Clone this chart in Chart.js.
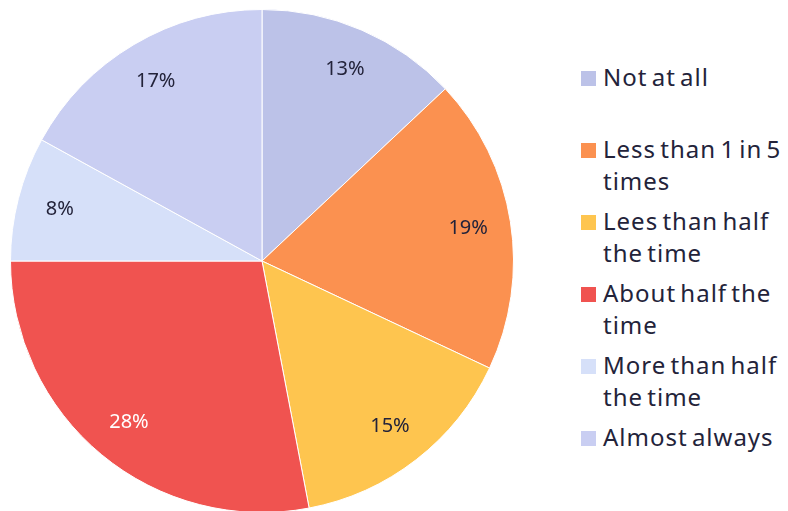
<!DOCTYPE html>
<html>
<head>
<meta charset="utf-8">
<script src="https://cdn.jsdelivr.net/npm/chart.js@4/dist/chart.umd.min.js"></script>
<style>
  html, body { margin: 0; padding: 0; background: #fff; width: 788px; height: 511px; overflow: hidden; }
  #wrap { position: absolute; left: 10px; top: 9px; width: 504px; height: 504px; }
  #legend { position: absolute; left: 581px; top: 61px; font-family: "Noto Sans", sans-serif; font-size: 24px; letter-spacing: 1px; word-spacing: -3px; color: #23233a; }
  .item { position: relative; height: 72px; padding-left: 22px; line-height: 32px; white-space: nowrap; }
  .box { position: absolute; left: 0; top: 10px; width: 15px; height: 15px; }
</style>
</head>
<body>
<div id="wrap"><canvas id="pieChart"></canvas></div>
<div id="legend"></div>
<script>
const labels = [
    ['Not at all'],
    ['Less than 1 in 5', 'times'],
    ['Lees than half', 'the time'],
    ['About half the', 'time'],
    ['More than half', 'the time'],
    ['Almost always']
];
const shares = [13, 19, 15, 28, 8, 17];
const colors = ['#bcc2e8', '#fb9150', '#fec54f', '#f05350', '#d6e0f9', '#c9cef2'];
const labelColors = ['#23233a', '#23233a', '#23233a', '#ffffff', '#23233a', '#23233a'];

// percentage text inside each slice
const sliceLabels = {
    id: 'sliceLabels',
    afterDatasetsDraw(chart) {
        const ctx = chart.ctx;
        const meta = chart.getDatasetMeta(0);
        ctx.save();
        ctx.font = '20px "Noto Sans", sans-serif';
        ctx.textAlign = 'center';
        ctx.textBaseline = 'middle';
        meta.data.forEach((arc, i) => {
            const mid = (arc.startAngle + arc.endAngle) / 2;
            const r = arc.outerRadius * 0.83;
            ctx.fillStyle = labelColors[i];
            ctx.fillText(shares[i] + '%', arc.x + Math.cos(mid) * r, arc.y + Math.sin(mid) * r);
        });
        ctx.restore();
    }
};

new Chart(document.getElementById('pieChart'), {
    type: 'pie',
    data: {
        labels: labels.map(l => l.join(' ')),
        datasets: [{
            data: shares,
            backgroundColor: colors,
            borderColor: '#ffffff',
            borderWidth: 1
        }]
    },
    options: {
        responsive: true,
        maintainAspectRatio: false,
        animation: false,
        plugins: {
            legend: { display: false },
            tooltip: { enabled: false }
        }
    },
    plugins: [sliceLabels]
});

const legend = document.getElementById('legend');
labels.forEach((lines, i) => {
    const item = document.createElement('div');
    item.className = 'item';
    item.innerHTML = '<span class="box" style="background:' + colors[i] + '"></span>' + lines.join('<br>');
    legend.appendChild(item);
});
</script>
</body>
</html>
